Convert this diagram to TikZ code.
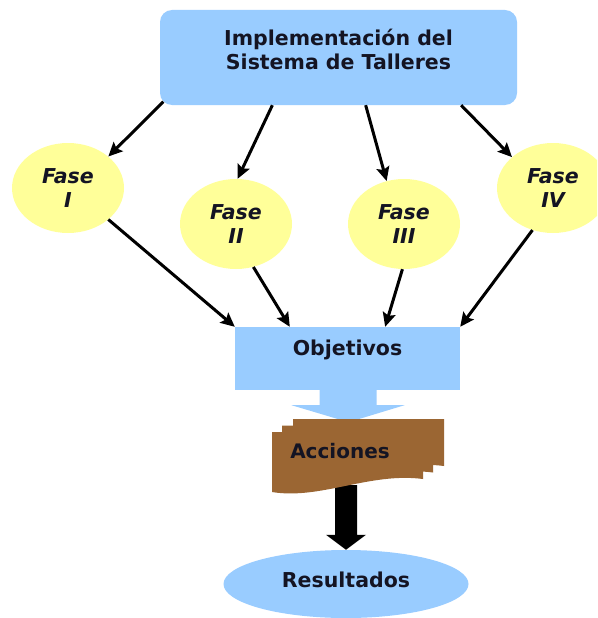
\documentclass[tikz,border=0pt]{standalone}
\usepackage{fontspec}
\setmainfont{DejaVu Sans}
\usetikzlibrary{shapes.geometric,calc,arrows.meta}
\definecolor{boxblue}{RGB}{153,204,255}
\definecolor{fyellow}{RGB}{255,255,153}
\definecolor{accbrown}{RGB}{155,102,51}
\definecolor{txt}{RGB}{20,20,35}
\begin{document}
\begin{tikzpicture}[x=1pt,y=-1pt,
  lbl/.style={font=\fontsize{20.5}{24.5}\selectfont\bfseries, text=txt, align=center, inner sep=0pt},
  flbl/.style={font=\fontsize{20.5}{24.5}\selectfont\bfseries\itshape, text=txt, align=center, inner sep=0pt},
  fase/.style={ellipse, fill=fyellow, minimum width=112pt, minimum height=90pt, inner sep=0pt},
  conn/.style={line width=3pt, -{Stealth[length=14pt,width=13pt,inset=2.5pt]}, black}]
\clip (0,0) rectangle (597,618);
\fill[white] (0,0) rectangle (597,618);
% top box
\node[fill=boxblue, rounded corners=12pt, minimum width=357pt, minimum height=95pt, inner sep=0pt] (top) at (338.5,57.5) {};
\node[lbl] (toptxt) at ($(top.center)+(0,-8)$) {Implementación del\\Sistema de Talleres};
% phases
\node[fase] (f1) at (68,188) {};
\node[fase] (f2) at (236,224) {};
\node[fase] (f3) at (404,224) {};
\node[fase] (f4) at (553,188) {};
\node[flbl] at (f1.center) {Fase\\I};
\node[flbl] at (f2.center) {Fase\\II};
\node[flbl] at (f3.center) {Fase\\III};
\node[flbl] at (f4.center) {Fase\\IV};
% objetivos
\node[fill=boxblue, minimum width=225pt, minimum height=63pt, inner sep=0pt] (obj) at (347.5,358.5) {};
\node[lbl] (objtxt) at ($(obj.center)+(0,-9)$) {Objetivos};
% blue block arrow
\fill[boxblue] ($(obj.south)+(-28,0)$) -- ($(obj.south)+(29,0)$) -- ($(obj.south)+(29,15)$)
  -- ($(obj.south)+(57,15)$) -- ($(obj.south)+(1,32)$) -- ($(obj.south)+(-56,15)$)
  -- ($(obj.south)+(-28,15)$) -- cycle;
% resultados
\node[ellipse, fill=boxblue, minimum width=245pt, minimum height=68pt, inner sep=0pt] (res) at (346,584) {};
\node[lbl] (restxt) at ($(res.center)+(0,-4)$) {Resultados};
% black block arrow
\coordinate (bk) at (346,485);
\fill[black] ($(bk)+(-11,0)$) -- ($(bk)+(11,0)$) -- ($(res.north)+(11,-15)$) -- ($(res.north)+(20,-15)$)
  -- (res.north) -- ($(res.north)+(-20,-15)$) -- ($(res.north)+(-11,-15)$) -- cycle;
% acciones (stacked documents)
\foreach \dx/\dy in {21/-13,10/-6.5,0/0}{
  \begin{scope}[shift={(\dx,\dy)}]
    \fill[accbrown] (272,432) -- (423,432) -- (423,479)
      .. controls (370,472) and (320,500) .. (272,492) -- cycle;
  \end{scope}
}
\node[lbl, font=\fontsize{20}{24}\selectfont\bfseries] (acc) at (340,451) {Acciones};
% connectors
\draw[conn] ($(top.south west)+(3.5,-3.5)$) -- (f1.38);
\draw[conn] ($(top.south west)!0.315!(top.south east)$) -- (f2.88);
\draw[conn] ($(top.south west)!0.576!(top.south east)$) -- (f3.112);
\draw[conn] ($(top.south west)!0.843!(top.south east)$) -- (f4.143);
\draw[conn] (f1.-38) -- (obj.north west);
\draw[conn] (f2.-68) -- ($(obj.north west)!0.244!(obj.north east)$);
\draw[conn] (f3.-92) -- ($(obj.north west)!0.667!(obj.north east)$);
\draw[conn] (f4.-116) -- (obj.north east);
\end{tikzpicture}
\end{document}
